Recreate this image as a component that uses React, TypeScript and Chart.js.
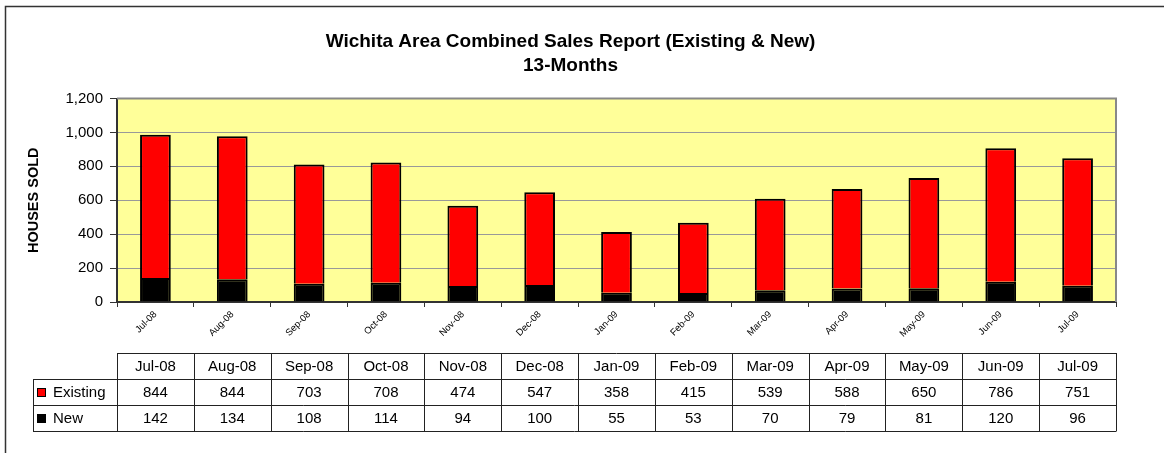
import React, { useEffect, useRef } from "react";
import { Chart, registerables } from "chart.js";

Chart.register(...registerables);

const months = ["Jul-08", "Aug-08", "Sep-08", "Oct-08", "Nov-08", "Dec-08", "Jan-09", "Feb-09", "Mar-09", "Apr-09", "May-09", "Jun-09", "Jul-09"];
const existing = [844, 844, 703, 708, 474, 547, 358, 415, 539, 588, 650, 786, 751];
const newHomes = [142, 134, 108, 114, 94, 100, 55, 53, 70, 79, 81, 120, 96];
const titleLines = ["Wichita Area Combined Sales Report (Existing & New)", "13-Months"];
const yTitle = "HOUSES SOLD";

const FONT = "'Liberation Sans', Arial, sans-serif";

const framePlugin = {
  id: "frame",
  beforeDraw(chart: any) {
    const { ctx, chartArea } = chart;
    ctx.save();
    ctx.fillStyle = "#ffffff";
    ctx.fillRect(0, 0, chart.width, chart.height);
    ctx.strokeStyle = "#333333";
    ctx.lineWidth = 1.5;
    ctx.strokeRect(5.5, 6.5, 1300, 600);
    ctx.fillStyle = "#FFFF99";
    ctx.fillRect(chartArea.left, chartArea.top, chartArea.right - chartArea.left, chartArea.bottom - chartArea.top);
    ctx.restore();
  },
  afterDatasetsDraw(chart: any) {
    const { ctx, chartArea } = chart;
    ctx.save();
    ctx.strokeStyle = "#888888";
    ctx.lineWidth = 2;
    ctx.beginPath();
    ctx.moveTo(chartArea.left, chartArea.top);
    ctx.lineTo(chartArea.right, chartArea.top);
    ctx.lineTo(chartArea.right, chartArea.bottom);
    ctx.stroke();
    ctx.restore();
  },
};

const tablePlugin = {
  id: "dataTable",
  afterDraw(chart: any) {
    const { ctx, chartArea } = chart;
    const xs = chart.scales.x;
    const n = months.length;
    const cw = (chartArea.right - chartArea.left) / n;
    const legendLeft = 33;
    const rowTops = [353, 379, 405, 431];
    ctx.save();
    ctx.font = `15px ${FONT}`;
    ctx.fillStyle = "#000";
    ctx.textAlign = "center";
    ctx.textBaseline = "middle";
    const rows: (number | string)[][] = [months, existing, newHomes];
    rows.forEach((row, r) => {
      const yc = (rowTops[r] + rowTops[r + 1]) / 2 + 1;
      row.forEach((v, i) => {
        const x = xs.getPixelForValue(i);
        ctx.fillText(String(v), x, yc);
      });
    });
    const legends = [
      { label: "Existing", color: "#FF0000" },
      { label: "New", color: "#000000" },
    ];
    legends.forEach((l, k) => {
      const top = rowTops[k + 1];
      const yc = (top + rowTops[k + 2]) / 2;
      ctx.fillStyle = l.color;
      ctx.fillRect(37, yc - 4, 9, 9);
      ctx.strokeStyle = "#000";
      ctx.lineWidth = 1;
      ctx.strokeRect(37.5, yc - 3.5, 8, 8);
      ctx.fillStyle = "#000";
      ctx.textAlign = "left";
      ctx.fillText(l.label, 53, yc + 1);
    });
    ctx.strokeStyle = "#222";
    ctx.lineWidth = 1;
    ctx.beginPath();
    ctx.moveTo(chartArea.left, rowTops[0] + 0.5);
    ctx.lineTo(chartArea.right, rowTops[0] + 0.5);
    for (let r = 1; r < rowTops.length; r++) {
      ctx.moveTo(legendLeft, rowTops[r] + 0.5);
      ctx.lineTo(chartArea.right, rowTops[r] + 0.5);
    }
    for (let i = 0; i <= n; i++) {
      const x = Math.round(chartArea.left + i * cw) + 0.5;
      ctx.moveTo(x, rowTops[0]);
      ctx.lineTo(x, rowTops[3] + 0.5);
    }
    ctx.moveTo(legendLeft + 0.5, rowTops[1]);
    ctx.lineTo(legendLeft + 0.5, rowTops[3] + 0.5);
    ctx.stroke();
    ctx.restore();
  },
};

export default function App() {
  const ref = useRef<HTMLCanvasElement | null>(null);
  useEffect(() => {
    if (!ref.current) return;
    const chart = new Chart(ref.current, {
      type: "bar",
      data: {
        labels: months,
        datasets: [
          {
            label: "New",
            data: newHomes,
            backgroundColor: "#000000",
            borderColor: "#000000",
            borderWidth: 2,
            barPercentage: 0.4,
            categoryPercentage: 1,
          },
          {
            label: "Existing",
            data: existing,
            backgroundColor: "#FF0000",
            borderColor: "#000000",
            borderWidth: 2,
            barPercentage: 0.4,
            categoryPercentage: 1,
          },
        ],
      },
      options: {
        responsive: false,
        animation: false,
        layout: { padding: { left: 25, right: 48, top: 0, bottom: 0 } },
        plugins: {
          legend: { display: false },
          tooltip: { enabled: false },
          title: {
            display: true,
            text: titleLines,
            color: "#000",
            font: { family: FONT, size: 19, weight: "bold", lineHeight: 1.25 },
            padding: { top: 30, bottom: 21 },
          },
        },
        scales: {
          x: {
            stacked: true,
            offset: true,
            grid: {
              offset: true,
              drawOnChartArea: false,
              drawTicks: true,
              tickLength: 5,
              color: "#333",
            },
            border: { display: true, color: "#333", width: 2 },
            ticks: {
              color: "#000",
              font: { family: FONT, size: 9.5 },
              minRotation: 45,
              maxRotation: 45,
              autoSkip: false,
              padding: 2,
            },
            afterFit(scale: any) {
              scale.height = 151;
            },
          },
          y: {
            stacked: true,
            min: 0,
            max: 1200,
            ticks: {
              stepSize: 200,
              color: "#000",
              font: { family: FONT, size: 15 },
              padding: 7,
            },
            grid: {
              color: "#999999",
              tickLength: 7,
              tickColor: "#333",
            },
            border: { display: true, color: "#333", width: 2 },
            title: {
              display: true,
              text: yTitle,
              color: "#000",
              font: { family: FONT, size: 14.5, weight: "bold" },
              padding: 0,
            },
            afterFit(scale: any) {
              scale.width = 92;
            },
          },
        },
      },
      plugins: [framePlugin, tablePlugin],
    } as any);
    return () => chart.destroy();
  }, []);
  return (
    <div style={{ position: "fixed", left: 0, top: 0, width: 1164, height: 453, background: "#fff" }}>
      <canvas ref={ref} width={1164} height={453} />
    </div>
  );
}
